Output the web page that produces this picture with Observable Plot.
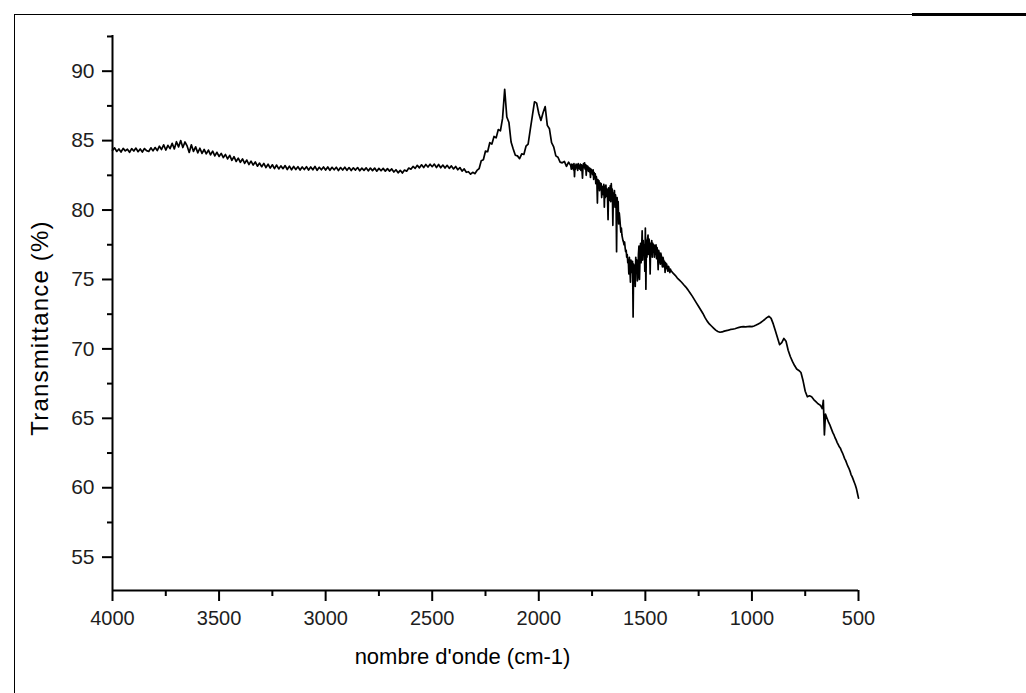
<!DOCTYPE html>
<html>
<head>
<meta charset="utf-8">
<script src="https://cdn.jsdelivr.net/npm/d3@7"></script>
<script src="https://cdn.jsdelivr.net/npm/@observablehq/plot@0.6"></script>
<style>
html, body { margin: 0; padding: 0; background: #fff; overflow: hidden; }
#wrap { position: relative; width: 1026px; height: 693px; }
#wrap svg { position: absolute; left: 0; top: 0; }
.bt { position: absolute; left: 14px; top: 14px; width: 898px; height: 0; border-top: 1.5px solid #000; }
.bt2 { position: absolute; left: 912px; top: 13px; width: 114px; height: 0; border-top: 3px solid #000; }
.bl { position: absolute; left: 14px; top: 14px; width: 0; height: 679px; border-left: 1.5px solid #000; }
</style>
</head>
<body>
<div id="wrap"><div class="bt"></div><div class="bt2"></div><div class="bl"></div></div>
<script>
// ---- Axis / text ----
const xTitle = "nombre d'onde (cm-1)";
const yTitle = "Transmittance (%)";
const xDomain = [4000, 500];
const yDomain = [52.6, 92.57];
const xTicks = [4000, 3500, 3000, 2500, 2000, 1500, 1000, 500];
const xMinor = [3750, 3250, 2750, 2250, 1750, 1250, 750];
const yTicks = [55, 60, 65, 70, 75, 80, 85, 90];
const yMinor = [57.5, 62.5, 67.5, 72.5, 77.5, 82.5, 87.5, 92.5];

// ---- Spectrum (transmittance %) ----
// segment A: 4000 -> 1860 cm-1, every 10 cm-1
const segAStart = 4000, segAStep = 10;
const segA = [
  84.30, 84.48, 84.22, 84.40, 84.18, 84.44, 84.26, 84.38, 84.16, 84.42,
  84.25, 84.46, 84.20, 84.40, 84.18, 84.43, 84.28, 84.22, 84.48, 84.26,
  84.50, 84.28, 84.60, 84.36, 84.70, 84.32, 84.66, 84.42, 84.80, 84.40,
  84.92, 84.55, 85.00, 84.50, 84.90, 84.62, 84.15, 84.70, 84.22, 84.55,
  84.12, 84.45, 84.08, 84.36, 84.05, 84.32, 83.98, 84.24, 83.90, 84.16,
  83.86, 84.08, 83.78, 84.00, 83.68, 83.94, 83.58, 83.84, 83.50, 83.74,
  83.44, 83.68, 83.36, 83.60, 83.28, 83.52, 83.24, 83.46, 83.16, 83.38,
  83.12, 83.36, 83.06, 83.30, 83.02, 83.26, 82.98, 83.24, 82.96, 83.18,
  82.98, 83.20, 82.92, 83.16, 82.90, 83.14, 82.92, 83.12, 82.88, 83.10,
  82.92, 83.12, 82.88, 83.10, 82.90, 83.14, 82.86, 83.08, 82.90, 83.10,
  82.88, 83.10, 82.86, 83.08, 82.90, 83.08, 82.84, 83.06, 82.88, 83.08,
  82.86, 83.06, 82.84, 83.04, 82.88, 83.06, 82.83, 83.02, 82.86, 83.04,
  82.82, 83.02, 82.84, 83.02, 82.80, 83.00, 82.83, 83.00, 82.80, 82.98,
  82.80, 82.96, 82.74, 82.90, 82.68, 82.86, 82.66, 82.88, 82.80, 83.02,
  82.94, 83.14, 83.00, 83.22, 83.04, 83.26, 83.06, 83.28, 83.10, 83.30,
  83.12, 83.31, 83.06, 83.28, 83.04, 83.24, 83.02, 83.22, 83.00, 83.18,
  82.96, 83.14, 82.90, 83.06, 82.80, 82.96, 82.72, 82.76, 82.58, 82.72,
  82.62, 82.85, 82.98, 83.55, 83.62, 84.25, 84.20, 84.85, 84.75, 85.30,
  85.20, 85.80, 85.70, 86.60, 88.70, 86.70, 86.30, 84.90, 84.40, 83.95,
  83.90, 83.70, 84.05, 84.00, 84.60, 84.75, 85.80, 86.80, 87.80, 87.70,
  86.95, 86.45, 87.00, 87.45, 86.10, 85.85, 84.85, 84.55, 83.90, 83.80,
  83.45, 83.40, 83.50, 83.15, 83.45
];
// segment B: 1850 -> 1380 cm-1, every 2.5 cm-1 (noisy region)
const segBStart = 1850, segBStep = 2.5;
const segB = [
  83.20, 82.95, 83.30, 83.00, 83.25, 82.90, 83.35, 82.40, 83.20, 82.95, 83.30, 83.05, 83.25, 82.85, 83.35, 83.00, 83.20, 82.95, 83.30, 82.85,
  83.25, 82.95, 82.30, 83.20, 83.35, 83.05, 83.40, 82.95, 83.25, 82.50, 83.20, 82.90, 83.15, 82.80, 83.05, 82.75, 83.00, 82.35, 82.95, 82.70,
  82.85, 82.55, 82.90, 82.20, 82.70, 82.40, 82.60, 81.90, 82.40, 82.10, 80.50, 82.20, 81.80, 82.10, 81.40, 81.95, 81.50, 81.90, 80.90, 81.70,
  81.60, 81.10, 81.85, 80.20, 81.70, 80.90, 81.80, 81.00, 81.50, 80.95, 79.30, 81.60, 81.40, 80.70, 81.75, 80.60, 81.90, 81.10, 81.50, 78.90,
  81.20, 80.60, 81.40, 80.20, 81.10, 80.70, 77.00, 80.90, 80.20, 80.60, 79.00, 79.80, 79.40, 78.90, 78.40, 78.70, 78.20, 78.00, 77.80, 77.70,
  77.50, 77.70, 77.30, 77.00, 77.10, 76.60, 76.80, 76.20, 76.40, 75.40, 76.60, 75.80, 74.80, 76.40, 76.00, 75.50, 76.30, 72.30, 76.10, 75.20,
  76.00, 74.50, 76.60, 75.60, 76.40, 74.90, 75.20, 76.80, 77.40, 75.00, 76.60, 77.60, 76.20, 77.20, 78.50, 76.40, 77.80, 76.80, 77.50, 75.60,
  78.70, 74.30, 77.80, 76.60, 77.90, 78.20, 76.80, 77.90, 77.40, 75.40, 77.60, 76.90, 77.80, 76.60, 77.60, 77.00, 77.50, 76.60, 77.40, 76.80,
  77.50, 76.50, 77.30, 76.80, 75.70, 77.10, 76.90, 76.40, 76.10, 76.90, 76.70, 76.20, 75.90, 76.60, 76.40, 75.90, 76.30, 75.50, 76.20, 75.80,
  76.10, 75.80, 75.60, 75.95, 75.90, 75.60, 75.50, 75.75, 75.65
];
// segment C1: 1370 -> 680 cm-1, every 10 cm-1
const segC1Start = 1370, segC1Step = 10;
const segC1 = [
  75.45, 75.30, 75.10, 74.95, 74.80, 74.62, 74.45, 74.25, 74.02, 73.80,
  73.55, 73.30, 73.05, 72.80, 72.55, 72.25, 72.00, 71.80, 71.65, 71.50,
  71.35, 71.25, 71.20, 71.22, 71.28, 71.32, 71.35, 71.40, 71.42, 71.45,
  71.50, 71.55, 71.58, 71.60, 71.58, 71.60, 71.62, 71.60, 71.65, 71.72,
  71.80, 71.88, 72.00, 72.12, 72.25, 72.35, 72.20, 71.80, 71.30, 70.80,
  70.30, 70.45, 70.75, 70.55, 69.90, 69.45, 69.10, 68.80, 68.55, 68.45,
  68.30, 67.70, 66.95, 66.55, 66.62, 66.55, 66.35, 66.20, 66.05, 65.95
];
// segment C2: 675 -> 500 cm-1, every 5 cm-1
const segC2Start = 675, segC2Step = 5;
const segC2 = [
  65.85, 65.70, 66.30, 63.80, 65.30, 65.10, 64.90, 64.70, 64.55, 64.35,
  64.15, 63.95, 63.80, 63.60, 63.45, 63.25, 63.10, 62.95, 62.85, 62.65,
  62.50, 62.30, 62.10, 61.95, 61.75, 61.55, 61.40, 61.20, 60.95, 60.80,
  60.60, 60.40, 60.20, 59.95, 59.60, 59.25
];

const segments = [
  {start: segAStart, step: segAStep, values: segA},
  {start: segBStart, step: segBStep, values: segB},
  {start: segC1Start, step: segC1Step, values: segC1},
  {start: segC2Start, step: segC2Step, values: segC2}
];
const spectrum = segments.flatMap(s => s.values.map((t, i) => ({wn: s.start - i * s.step, t})));

const font = "'Liberation Sans', Arial, Helvetica, sans-serif";
const fmt = d3.format("d");

const chart = Plot.plot({
  width: 1026,
  height: 693,
  marginLeft: 112,
  marginRight: 168,
  marginTop: 35,
  marginBottom: 103,
  x: {domain: xDomain},
  y: {domain: yDomain},
  style: {fontFamily: font, background: "transparent", color: "#000"},
  marks: [
    Plot.axisX(xMinor, {tickSize: 6, tickFormat: () => "", label: null, stroke: "#000", strokeWidth: 2}),
    Plot.axisX(xTicks, {tickSize: 11, tickPadding: 9, tickFormat: fmt, label: null, stroke: "#000", strokeWidth: 2, fontSize: 20, fill: "#1e1e1e"}),
    Plot.axisY(yMinor, {tickSize: 5, tickFormat: () => "", label: null, stroke: "#000", strokeWidth: 2}),
    Plot.axisY(yTicks, {tickSize: 10, tickPadding: 8, tickFormat: fmt, label: null, stroke: "#000", strokeWidth: 2, fontSize: 21, fill: "#1e1e1e"}),
    Plot.ruleX([xDomain[0]], {stroke: "#000", strokeWidth: 2}),
    Plot.ruleY([yDomain[0]], {stroke: "#000", strokeWidth: 2}),
    Plot.line(spectrum, {x: "wn", y: "t", stroke: "#000", strokeWidth: 1.7}),
    Plot.text([xTitle], {text: d => d, frameAnchor: "bottom", dx: -23, dy: 73, fontSize: 22, fill: "#000"}),
    Plot.text([yTitle], {text: d => d, frameAnchor: "left", textAnchor: "middle", rotate: -90, dx: -72, dy: 15, fontSize: 24, fill: "#000"})
  ]
});
d3.select(chart).selectAll("text").filter(function () { return this.textContent === yTitle; })
  .style("letter-spacing", "1.2px");
document.getElementById("wrap").appendChild(chart);
</script>
</body>
</html>
